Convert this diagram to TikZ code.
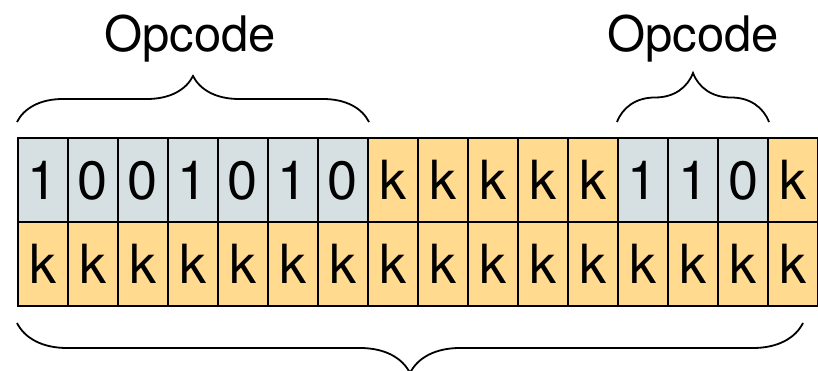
\documentclass[tikz,border=0pt]{standalone}
\usepackage{fontspec}
\setmainfont{TeX Gyre Heros}
\usetikzlibrary{decorations.pathreplacing}

\definecolor{opcfill}{HTML}{D6E0E2}
\definecolor{constfill}{HTML}{FFDA8F}

\tikzset{
  cell/.style={draw=black, line width=2pt, minimum width=50pt, minimum height=84pt,
    inner sep=0pt, text height=39pt, text depth=0pt,
    font=\fontsize{54}{62}\selectfont},
  bitbrace/.style={decorate, decoration={brace, amplitude=#1}, line width=1.8pt},
  optext/.style={anchor=base, font=\fontsize{49}{56}\selectfont}
}

\begin{document}
\begin{tikzpicture}[x=1pt, y=1pt]
    \useasboundingbox (0,0) rectangle (818,371);

    % first word: opcode bits and constant bits
    \foreach \b/\c [count=\i] in {1/opcfill, 0/opcfill, 0/opcfill, 1/opcfill, 0/opcfill, 1/opcfill, 0/opcfill,
        k/constfill, k/constfill, k/constfill, k/constfill, k/constfill,
        1/opcfill, 1/opcfill, 0/opcfill, k/constfill}
        \node[cell, fill=\c] (t\i) at ({-7+50*\i}, 191) {\b};

    % second word: all constant bits
    \foreach \i in {1,...,16}
        \node[cell, fill=constfill] (b\i) at ({-7+50*\i}, 107) {k};

    % braces
    \draw[bitbrace=46pt] ([yshift=15pt]t1.north west) -- ([yshift=15pt]t7.north east);
    \draw[bitbrace=49pt] ([yshift=15pt]t13.north west) -- ([yshift=15pt]t15.north east);
    \draw[bitbrace=50pt] ([xshift=-16pt, yshift=-16pt]b16.south east) -- ([yshift=-16pt]b1.south west);

    \node[optext] (op1) at (190, 319) {Opcode};
    \node[optext] (op2) at (693, 319) {Opcode};
\end{tikzpicture}
\end{document}
